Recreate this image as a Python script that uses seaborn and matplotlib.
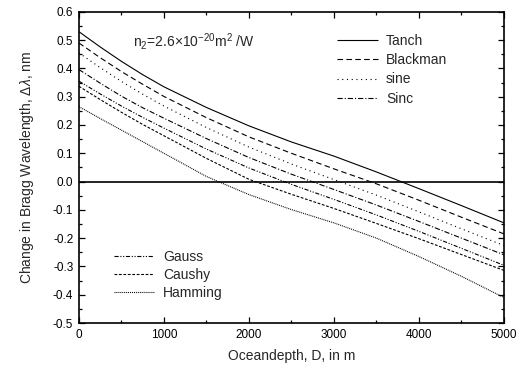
import matplotlib
matplotlib.use("Agg")
import matplotlib.pyplot as plt
import seaborn as sns
import pandas as pd
from matplotlib.ticker import MultipleLocator

sns.set_theme(style="ticks")
plt.rcParams['font.family'] = ['Liberation Sans', 'DejaVu Sans']
plt.rcParams['lines.scale_dashes'] = False
plt.rcParams['mathtext.fontset'] = 'custom'
plt.rcParams['mathtext.rm'] = 'Liberation Sans'
plt.rcParams['mathtext.it'] = 'Liberation Sans:italic'

depth = [0, 250, 500, 750, 1000, 1500, 2000, 2500, 3000, 3500, 4000, 4500, 5000]
tanch = [0.530, 0.476, 0.425, 0.378, 0.335, 0.262, 0.197, 0.140, 0.090, 0.034, -0.025, -0.085, -0.146]
blackman = [0.490, 0.438, 0.389, 0.344, 0.301, 0.226, 0.158, 0.100, 0.045, -0.008, -0.066, -0.126, -0.185]
sine = [0.455, 0.403, 0.354, 0.309, 0.267, 0.191, 0.122, 0.062, 0.007, -0.048, -0.107, -0.167, -0.226]
sinc = [0.396, 0.348, 0.302, 0.261, 0.224, 0.152, 0.085, 0.026, -0.028, -0.083, -0.141, -0.200, -0.259]
gauss = [0.355, 0.310, 0.267, 0.227, 0.189, 0.115, 0.048, -0.010, -0.063, -0.118, -0.176, -0.236, -0.296]
caushy = [0.337, 0.290, 0.245, 0.202, 0.162, 0.082, 0.008, -0.045, -0.095, -0.148, -0.202, -0.258, -0.314]
hamming = [0.265, 0.223, 0.182, 0.141, 0.100, 0.018, -0.046, -0.099, -0.146, -0.200, -0.265, -0.335, -0.410]

series = {
    "Tanch": tanch, "Blackman": blackman, "sine": sine, "Sinc": sinc,
    "Gauss": gauss, "Caushy": caushy, "Hamming": hamming,
}
styles = {
    "Tanch": (0, ()),
    "Blackman": (0, (4.0, 2.4)),
    "sine": (0, (0.8, 2.6)),
    "Sinc": (0, (3.8, 1.4, 0.8, 1.4)),
    "Gauss": (0, (3.0, 1.2, 0.8, 1.2, 0.8, 1.2)),
    "Caushy": (0, (2.0, 1.2)),
    "Hamming": (0, (0.7, 0.7)),
}

fig = plt.figure(figsize=(5.19, 3.70), dpi=100)
ax = fig.add_axes([0.152, 0.127, 0.819, 0.841])

handles = {}
for name, vals in series.items():
    df = pd.DataFrame({"D": depth, "dl": vals})
    sns.lineplot(data=df, x="D", y="dl", ax=ax, color="black", lw=0.8,
                 linestyle=styles[name], label=name, legend=False)
    handles[name] = ax.lines[-1]

ax.axhline(0, color="black", lw=1.2)

ax.set_xlim(0, 5000)
ax.set_ylim(-0.5, 0.6)
ax.xaxis.set_major_locator(MultipleLocator(1000))
ax.xaxis.set_minor_locator(MultipleLocator(500))
ax.yaxis.set_major_locator(MultipleLocator(0.1))
ax.yaxis.set_minor_locator(MultipleLocator(0.05))
ax.yaxis.set_major_formatter(matplotlib.ticker.FormatStrFormatter('%.1f'))
ax.tick_params(which='both', direction='in', top=True, right=True, colors='black',
               labelsize=8.5, width=0.9)
ax.tick_params(which='major', length=4.5, pad=4)
ax.tick_params(which='minor', length=2.5)
for s in ax.spines.values():
    s.set_linewidth(1.2)
    s.set_color('black')

ax.set_xlabel("Oceandepth, D, in m", fontsize=10, labelpad=6)
ax.set_ylabel("Change in Bragg Wavelength, $\\Delta\\lambda$, nm", fontsize=10, labelpad=12)

ax.text(0.128, 0.905, "n$_2$=2.6×10$^{-20}$m$^2$ /W", transform=ax.transAxes,
        fontsize=10, va='center', ha='left')

leg1 = ax.legend([handles[n] for n in ["Tanch", "Blackman", "sine", "Sinc"]],
                 ["Tanch", "Blackman", "sine", "Sinc"], loc='upper left',
                 bbox_to_anchor=(0.595, 0.947), frameon=False, fontsize=10,
                 handlelength=2.9, labelspacing=0.38, handletextpad=0.6,
                 borderaxespad=0)
ax.add_artist(leg1)
ax.legend([handles[n] for n in ["Gauss", "Caushy", "Hamming"]],
          ["Gauss", "Caushy", "Hamming"], loc='lower left',
          bbox_to_anchor=(0.07, 0.055), frameon=False, fontsize=10,
          handlelength=2.9, labelspacing=0.3, handletextpad=0.6,
          borderaxespad=0)

fig.savefig("out.png", dpi=100)
